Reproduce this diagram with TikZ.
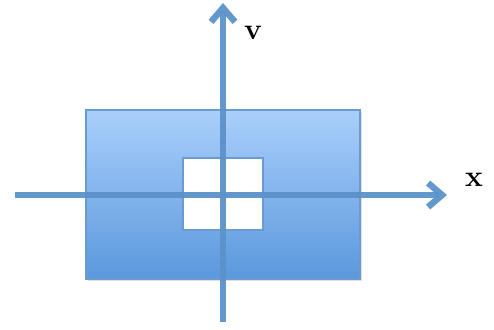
\documentclass[tikz,border=0pt]{standalone}
\usepackage{xcolor}
\usepackage{tikz}
\usetikzlibrary{arrows.meta, shadows}

\definecolor{axisblue}{HTML}{5B92C9}
\definecolor{boxtop}{HTML}{AACFFB}
\definecolor{boxbottom}{HTML}{5A98DC}
\definecolor{boxedge}{HTML}{6A9BD0}

\begin{document}
\begin{tikzpicture}[
  x=0.5pt, y=-0.5pt,
  plane/.style={draw=boxedge, line width=1pt, top color=boxtop, bottom color=boxbottom,
    minimum width=137pt, minimum height=84.5pt, inner sep=0pt,
    drop shadow={opacity=0.25, shadow xshift=1.2pt, shadow yshift=-1.2pt}},
  hole/.style={draw=boxedge, line width=1.2pt, fill=white,
    minimum width=40pt, minimum height=36pt, inner sep=0pt},
  axis/.style={draw=axisblue, line width=3.2pt, opacity=0.95,
    -{Straight Barb[length=7pt, width=12pt, line width=3.2pt]}},
  lab/.style={font=\fontsize{15}{18}\selectfont\bfseries}
]
\useasboundingbox (0,0) rectangle (494,329);

% the rectangle and the window in it
\node (plane) [plane] at (223,194.5) {};
\node (hole)  [hole]  at (223,194) {};

% axes
\coordinate (xstart) at (15,195);
\coordinate (xend)   at (447,195);
\coordinate (vstart) at (223,322);
\coordinate (vend)   at (223,3);

\draw [axis] (xstart) -- (xend);
\draw [axis] (vstart) -- (vend);

% labels
\node (vlab) [lab] at (253,33) {v};
\node (xlab) [lab] at (474,180) {x};

\end{tikzpicture}
\end{document}
